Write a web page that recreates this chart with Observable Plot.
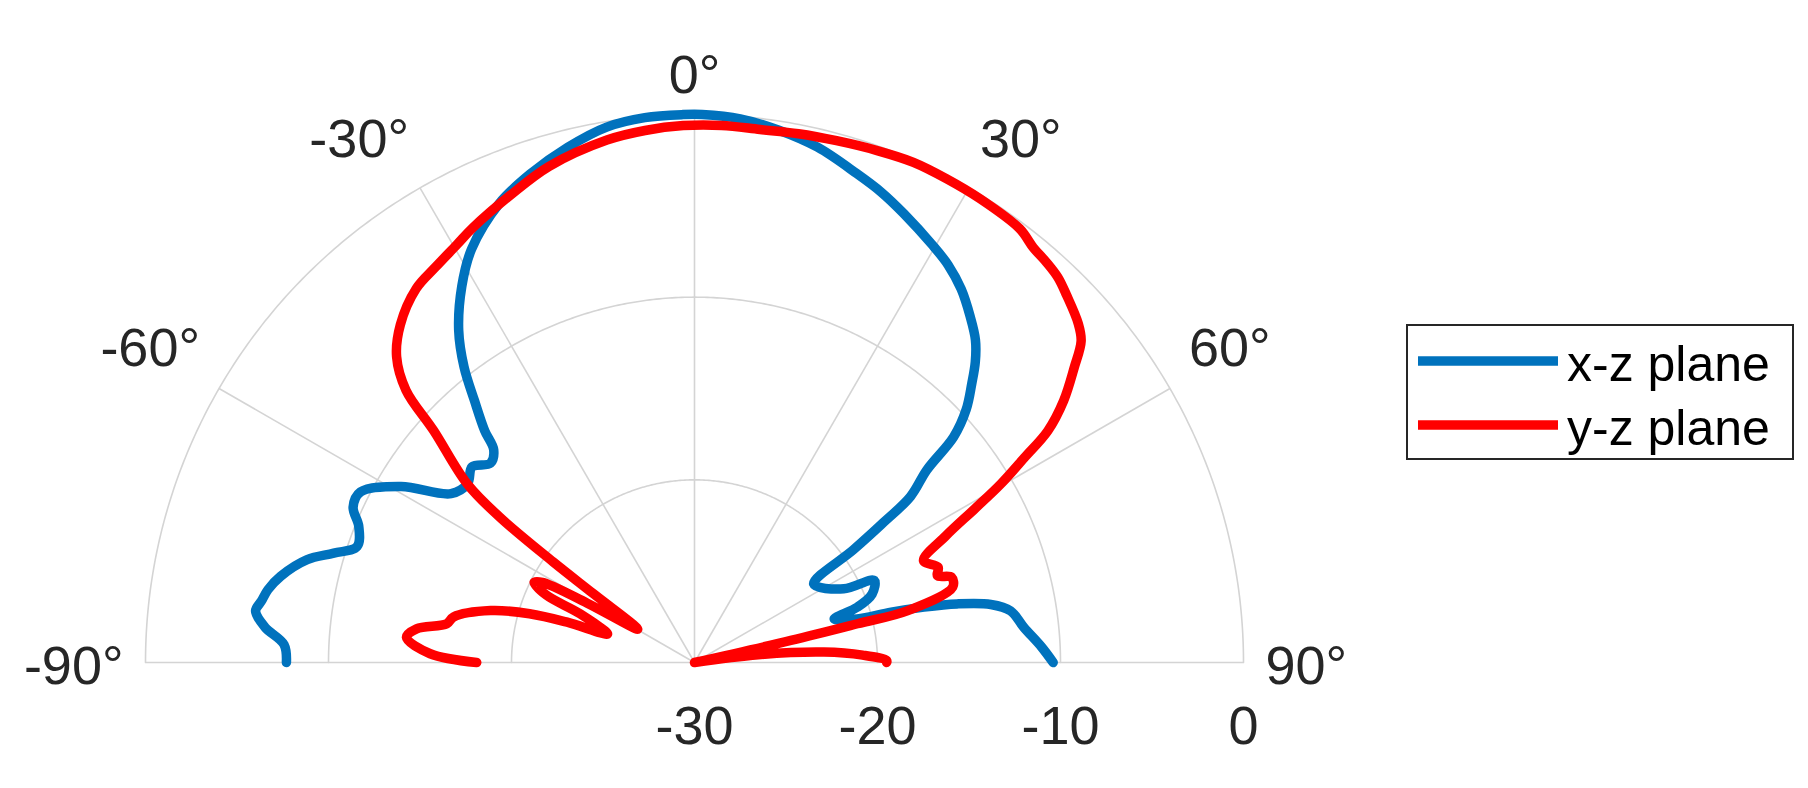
<!DOCTYPE html>
<html>
<head>
<meta charset="utf-8">
<script src="https://cdn.jsdelivr.net/npm/d3@7"></script>
<script src="https://cdn.jsdelivr.net/npm/@observablehq/plot@0.6"></script>
<style>
  body { margin: 0; background: #fff; }
  #wrap { position: relative; width: 1808px; height: 788px; font-family: "Liberation Sans", Arial, sans-serif; }
  #legend { position: absolute; left: 1406px; top: 324px; width: 388px; height: 136px; box-sizing: border-box; border: 2px solid #262626; background: #fff; }
</style>
</head>
<body>
<div id="wrap"></div>
<script>
// ---- data: angle (degrees) and normalized gain (dB) ----
const xzAngle = [-90, -87.5, -85.3, -83.3, -81.9, -80.3, -78.2, -75.1, -73.1, -71.0, -67.9, -65.5, -62.9, -59.0, -55.2, -51.7, -48.6, -45.6, -43.3, -42.1, -40.0, -37.9, -35.3, -31.7, -28.3, -23.0, -18.6, -13.8, -9.3, -5.2, -1.2, 0.8, 4.8, 9.0, 13.4, 18.3, 21.6, 25.0, 29.6, 32.5, 35.5, 38.5, 41.0, 43.0, 44.8, 47.0, 48.9, 50.3, 52.4, 53.5, 54.6, 56.6, 63.7, 65.4, 68.9, 71.2, 72.6, 75.0, 75.6, 76.4, 77.4, 78.9, 80.7, 83.9, 87.5, 90];
const xzGain  = [-7.7, -7.55, -6.45, -5.85, -6.1, -6.35, -6.9, -8.1, -9.4, -10.5, -10.2, -9.5, -9.5, -11.3, -13.8, -14.2, -13.8, -14.4, -14.0, -12.9, -11.3, -9.5, -7.7, -5.8, -4.3, -2.7, -1.8, -0.96, -0.3, -0.05, 0, 0, -0.13, -0.5, -1.0, -1.8, -2.3, -2.9, -3.7, -4.2, -4.9, -5.8, -6.6, -7.5, -8.5, -9.7, -11.2, -13.5, -15.1, -17.3, -19.35, -22.2, -20.9, -19.2, -19.6, -20.6, -22.0, -20.8, -18.9, -17.1, -15.3, -13.5, -12.5, -11.9, -11.0, -10.4];

const yzAngle = [-90, -88.1, -85.0, -83.1, -81.1, -79.3, -75.7, -73.5, -72.4, -71.8, -66.9, -65.5, -63.4, -62.2, -61.0, -59.5, -55.7, -54.5, -53.2, -51.8, -48.3, -46.6, -44.2, -41.0, -36.6, -33.3, -29.6, -27.0, -21.4, -16.3, -9.5, -5.3, -1.2, 2.9, 7.0, 11.1, 15.2, 19.6, 23.6, 27.5, 31.6, 36.8, 39.2, 41.3, 43.3, 45.3, 48.5, 50.2, 52.1, 54.6, 56.7, 58.1, 59.7, 61.2, 63.2, 66.0, 68.6, 70.3, 71.6, 73.7, 76.3, 76.6, 77.1, 78.5, 81.0, 83.0, 85.4, 87.5, 89.4, 90];
const yzGain  = [-18.1, -15.55, -14.2, -14.7, -16.3, -16.6, -18.5, -20.6, -22.7, -25.0, -23.2, -21.1, -20.2, -20.6, -23.3, -26.4, -23.3, -20.5, -16.7, -14.2, -10.9, -8.3, -6.65, -5.5, -4.5, -4.15, -3.7, -3.3, -2.5, -1.7, -1.0, -0.75, -0.6, -0.56, -0.6, -0.5, -0.4, -0.25, -0.12, -0.15, -0.2, -0.34, -0.7, -0.85, -1.04, -1.4, -2.0, -2.5, -3.7, -5.25, -6.9, -8.75, -10.6, -12.5, -14.6, -16.3, -15.7, -15.9, -15.2, -15.3, -18.0, -20.85, -24.6, -30, -30, -26.5, -22.9, -20.8, -19.5, -19.5];

const seriesNames  = ["x-z plane", "y-z plane"];
const seriesColors = ["#0072BD", "#FF0000"];

const thetaTicks  = [-90, -60, -30, 0, 30, 60, 90];
const thetaLabels = ["-90°", "-60°", "-30°", "0°", "30°", "60°", "90°"];
const rTicks  = [-30, -20, -10, 0];
const rLabels = ["-30", "-20", "-10", "0"];
const rMin = -30, rMax = 0;

// ---- polar -> cartesian (in radial data units) ----
const span = rMax - rMin;
const rad = g => Math.max(0, Math.min(span, g - rMin));
const toXY = (deg, r) => { const t = deg * Math.PI / 180; return { x: r * Math.sin(t), y: r * Math.cos(t) }; };

const xzPts = xzAngle.map((a, i) => toXY(a, rad(xzGain[i])));
const yzPts = yzAngle.map((a, i) => toXY(a, rad(yzGain[i])));

const ringPts = rTicks.filter(t => t > rMin).flatMap(t =>
  d3.range(-90, 90.01, 0.5).map(a => ({ ring: t, ...toXY(a, t - rMin) })));
const spokes = thetaTicks.map(a => ({ a, ...toXY(a, span) }));

const labelGap = 1.2;
const thLab = thetaTicks.map((a, i) => ({ a, label: thetaLabels[i], ...toXY(a, span + labelGap) }));
const rLab = rTicks.map((t, i) => ({ x: t - rMin, y: 0, label: rLabels[i] }));

const gridColor = "#d4d4d4";
const textColor = "#262626";
const fs = 54;
const lw = 9.5;

const plot = Plot.plot({
  width: 1808, height: 788,
  marginLeft: 145, marginRight: 565, marginTop: 114, marginBottom: 126,
  x: { domain: [-span, span], axis: null },
  y: { domain: [0, span], axis: null },
  style: { background: "#fff", fontFamily: '"Liberation Sans", Arial, sans-serif', color: textColor },
  marks: [
    Plot.line(ringPts, { x: "x", y: "y", z: "ring", stroke: gridColor, strokeWidth: 1.6 }),
    Plot.link(spokes, { x1: () => 0, y1: () => 0, x2: "x", y2: "y", stroke: gridColor, strokeWidth: 1.6 }),
    Plot.line(xzPts, { x: "x", y: "y", stroke: seriesColors[0], strokeWidth: lw, curve: "catmull-rom", strokeLinejoin: "round" }),
    Plot.line(yzPts, { x: "x", y: "y", stroke: seriesColors[1], strokeWidth: lw, curve: "catmull-rom", strokeLinejoin: "round" }),
    Plot.text(thLab.filter(d => d.a === 0), { x: "x", y: "y", text: "label", fontSize: fs, fill: textColor, textAnchor: "middle", lineAnchor: "bottom", dy: 0 }),
    Plot.text(thLab.filter(d => d.a > 0 && d.a < 90), { x: "x", y: "y", text: "label", fontSize: fs, fill: textColor, textAnchor: "start", lineAnchor: "bottom", dy: -12 }),
    Plot.text(thLab.filter(d => d.a < 0 && d.a > -90), { x: "x", y: "y", text: "label", fontSize: fs, fill: textColor, textAnchor: "end", lineAnchor: "bottom", dy: -12 }),
    Plot.text(thLab.filter(d => d.a === 90), { x: "x", y: "y", text: "label", fontSize: fs, fill: textColor, textAnchor: "start", lineAnchor: "middle", dy: 4 }),
    Plot.text(thLab.filter(d => d.a === -90), { x: "x", y: "y", text: "label", fontSize: fs, fill: textColor, textAnchor: "end", lineAnchor: "middle", dy: 4 }),
    Plot.text(rLab, { x: "x", y: "y", text: "label", fontSize: fs, fill: textColor, textAnchor: "middle", lineAnchor: "top", dy: 43 })
  ]
});

const wrap = document.getElementById("wrap");
wrap.appendChild(plot);

// ---- legend ----
const leg = d3.select(wrap).append("div").attr("id", "legend");
const lsvg = leg.append("svg").attr("width", 384).attr("height", 132).style("display", "block");
const rowY = [35, 99];
seriesNames.forEach((name, i) => {
  lsvg.append("line").attr("x1", 10).attr("x2", 150).attr("y1", rowY[i]).attr("y2", rowY[i])
    .attr("stroke", seriesColors[i]).attr("stroke-width", lw);
  lsvg.append("text").attr("x", 159).attr("y", rowY[i] + 20)
    .attr("font-family", '"Liberation Sans", Arial, sans-serif').attr("font-size", 50)
    .attr("fill", "#000").text(name);
});
</script>
</body>
</html>
